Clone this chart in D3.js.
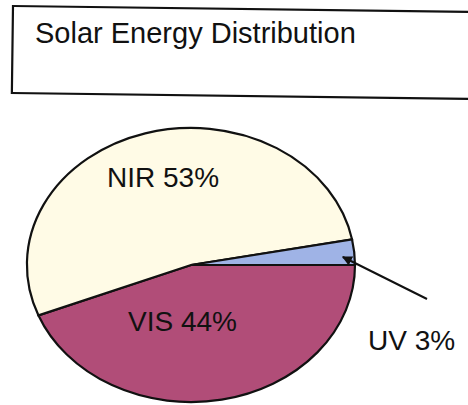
<!DOCTYPE html>
<html>
<head>
<meta charset="utf-8">
<script src="https://cdn.jsdelivr.net/npm/d3@7"></script>
<style>
  body { margin: 0; background: #fff; }
  text { font-family: "Liberation Sans", Arial, sans-serif; fill: #111; }
</style>
</head>
<body>
<div id="my_dataviz"></div>
<script>
// data
var bands = ["VIS", "NIR", "UV"];
var shares = [44, 53, 3];
var labels = ["VIS 44%", "NIR 53%", "UV 3%"];
var colors = ["#b14d78", "#fffbe6", "#9fb3e6"];

// dimensions
var width = 468, height = 405;
var cx = 191, cy = 265, rx = 164, ry = 137;

var svg = d3.select("#my_dataviz")
  .append("svg")
    .attr("width", width)
    .attr("height", height);

// title box (slightly tilted like the scan)
svg.append("rect")
  .attr("x", 13).attr("y", 6)
  .attr("width", 520).attr("height", 87)
  .attr("transform", "rotate(0.75,13,6)")
  .style("fill", "none")
  .style("stroke", "#111")
  .style("stroke-width", 2.2);

svg.append("text")
  .attr("x", 35).attr("y", 43)
  .style("font-size", "29px")
  .text("Solar Energy Distribution");

// pie, drawn on a unit circle and stretched to an ellipse
var pie = d3.pie()
  .sort(null)
  .value(function(d) { return d; })
  .startAngle(Math.PI / 2)
  .endAngle(Math.PI / 2 + 2 * Math.PI);

var arcs = pie(shares);

var arc = d3.arc().innerRadius(0).outerRadius(1);

var g = svg.append("g")
  .attr("transform", "translate(" + cx + "," + cy + ") scale(" + rx + "," + ry + ")");

g.selectAll("path")
  .data(arcs)
  .enter().append("path")
    .attr("d", arc)
    .attr("fill", function(d, i) { return colors[i]; })
    .attr("stroke", "#111")
    .attr("stroke-width", 2.2)
    .attr("vector-effect", "non-scaling-stroke");

// helper: point on the ellipse at d3 angle a, fraction r of radius
function ellPoint(a, r) {
  return [cx + Math.sin(a) * rx * r, cy - Math.cos(a) * ry * r];
}

// labels
var labelPos = {"NIR 53%": [107, 187], "VIS 44%": [128, 331], "UV 3%": [368, 350]};
labels.forEach(function(t) {
  svg.append("text")
    .attr("x", labelPos[t][0]).attr("y", labelPos[t][1])
    .style("font-size", "28px")
    .text(t);
});

// leader arrow for the UV slice
svg.append("defs").append("marker")
  .attr("id", "arrow")
  .attr("viewBox", "0 0 10 10")
  .attr("refX", 9).attr("refY", 5)
  .attr("markerWidth", 5).attr("markerHeight", 5)
  .attr("orient", "auto")
  .attr("markerUnits", "strokeWidth")
  .append("path")
    .attr("d", "M0,0 L10,5 L0,10 z")
    .attr("fill", "#111");

var uv = arcs[2];
var tip = ellPoint((uv.startAngle + uv.endAngle) / 2, 0.93);
svg.append("line")
  .attr("x1", 427).attr("y1", 299)
  .attr("x2", tip[0]).attr("y2", tip[1] + 4)
  .attr("stroke", "#111")
  .attr("stroke-width", 2)
  .attr("marker-end", "url(#arrow)");
</script>
</body>
</html>
